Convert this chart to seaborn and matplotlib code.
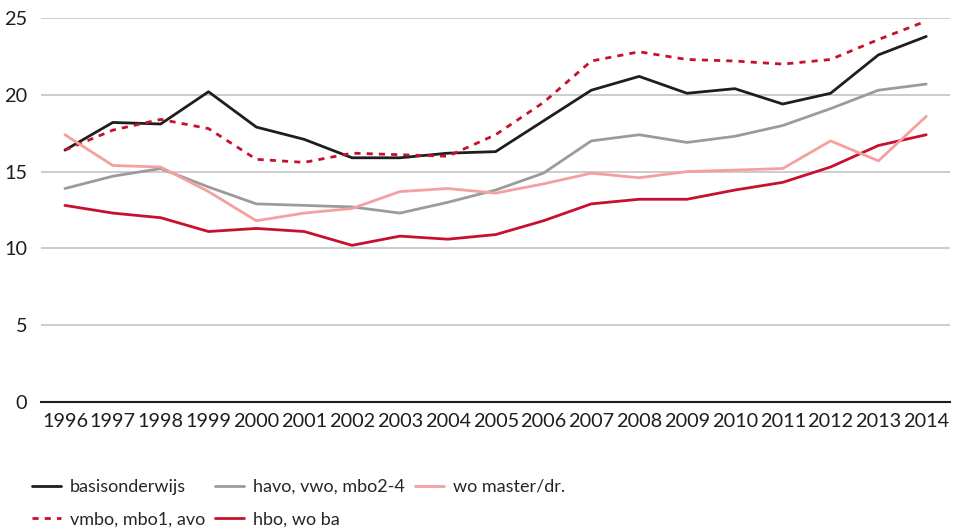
import numpy as np
import pandas as pd
import matplotlib
matplotlib.use("Agg")
import matplotlib.pyplot as plt
import seaborn as sns

years = [str(y) for y in range(1996, 2015)]

basisonderwijs = [16.4, 18.2, 18.1, 20.2, 17.9, 17.1, 15.9, 15.9, 16.2, 16.3,
                  18.3, 20.3, 21.2, 20.1, 20.4, 19.4, 20.1, 22.6, 23.8]
vmbo = [16.4, 17.7, 18.4, 17.8, 15.8, 15.6, 16.2, 16.1, 16.0, 17.4,
        19.5, 22.2, 22.8, 22.3, 22.2, 22.0, 22.3, 23.6, 24.8]
havo = [13.9, 14.7, 15.2, 14.0, 12.9, 12.8, 12.7, 12.3, 13.0, 13.8,
        14.9, 17.0, 17.4, 16.9, 17.3, 18.0, 19.1, 20.3, 20.7]
hbo = [12.8, 12.3, 12.0, 11.1, 11.3, 11.1, 10.2, 10.8, 10.6, 10.9,
       11.8, 12.9, 13.2, 13.2, 13.8, 14.3, 15.3, 16.7, 17.4]
wo_master = [17.4, 15.4, 15.3, 13.7, 11.8, 12.3, 12.6, 13.7, 13.9, 13.6,
             14.2, 14.9, 14.6, 15.0, 15.1, 15.2, 17.0, 15.7, 18.6]

# legend order: column-wise fill for 3 columns
series = [
    ("basisonderwijs", basisonderwijs, "#1e1e1e", "-"),
    ("vmbo, mbo1, avo", vmbo, "#c8102e", (0, (2.2, 2.2))),
    ("havo, vwo, mbo2-4", havo, "#9b9b9b", "-"),
    ("hbo, wo ba", hbo, "#c8102e", "-"),
    ("wo master/dr.", wo_master, "#f4a09f", "-"),
]

sns.set_style("white")
plt.rcParams["font.family"] = ["Lato", "DejaVu Sans"]

fig = plt.figure(figsize=(9.54, 5.30), dpi=100)
ax = fig.add_axes([0.043, 0.2415, 0.953, 0.7245])

x = np.arange(len(years))
for name, vals, col, ls in series:
    sns.lineplot(x=x, y=vals, ax=ax, color=col, linestyle=ls, linewidth=2.0,
                 label=name, clip_on=False)

ax.set_xlim(-0.5, len(years) - 0.5)
ax.set_ylim(0, 25)
ax.set_yticks([0, 5, 10, 15, 20, 25])
ax.yaxis.grid(True, color="#c4c4c4", linewidth=1.2)
ax.set_axisbelow(True)
ax.set_xticks(x)
ax.set_xticklabels(years)
ax.set_xticks(x[:-1] + 0.5, minor=True)
ax.tick_params(axis="x", which="major", length=0, labelsize=14.3, pad=8, colors="#1e1e1e")
ax.tick_params(axis="x", which="minor", length=5, color="#a0a0a0", width=1)
ax.tick_params(axis="y", length=0, labelsize=14.3, pad=10, colors="#1e1e1e")
for s in ["top", "right", "left"]:
    ax.spines[s].set_visible(False)
ax.spines["bottom"].set_color("#1e1e1e")
ax.spines["bottom"].set_linewidth(1.5)
ax.set_xlabel("")
ax.set_ylabel("")

handles, labels = ax.get_legend_handles_labels()
ax.get_legend().remove()
fig.legend(handles, labels, ncol=3, loc="upper left", bbox_to_anchor=(0.026, 0.11),
           frameon=False, fontsize=13, handlelength=1.6, handletextpad=0.5,
           columnspacing=0.55, labelspacing=0.9, borderaxespad=0)

fig.savefig("out.png", dpi=100)
